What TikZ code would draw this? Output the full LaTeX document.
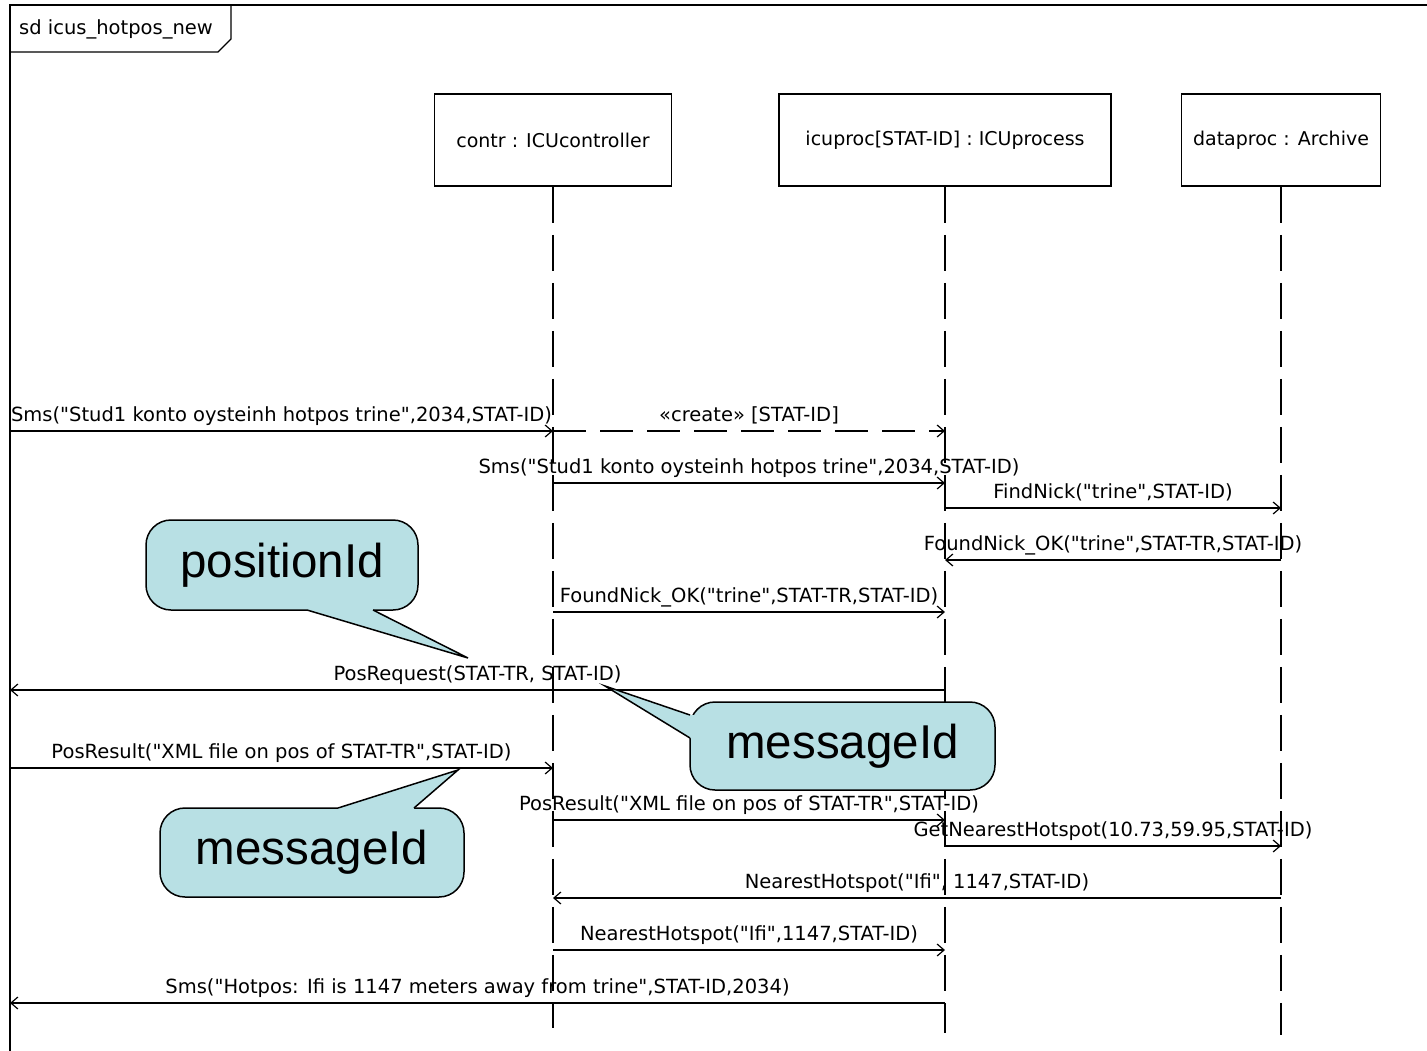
\documentclass[tikz,border=0pt]{standalone}
\usepackage{fontspec}
\setmainfont{DejaVu Sans}
\newfontfamily\msgfont{DejaVu Sans}
\newfontfamily\callfont{Liberation Sans}
\usetikzlibrary{arrows.meta}
\definecolor{callfill}{RGB}{184,224,228}
\tikzset{
 lbl/.style={font=\msgfont\fontsize{19.5}{23}\selectfont, inner sep=0pt, anchor=base},
 head/.style={draw, line width=1.5pt, minimum height=92pt, font=\msgfont\fontsize{19}{23}\selectfont, inner sep=0pt},
 life/.style={line width=1.5pt, dash pattern=on 36pt off 12pt},
 msg/.style={line width=1.3pt, -{Straight Barb[length=7pt,width=12pt,line width=1.2pt]}},
 crt/.style={msg, dash pattern=on 33pt off 14pt},
 callout/.style={draw, fill=callfill, line width=1.5pt, rounded corners=25pt, font=\callfont\fontsize{47.5}{56}\selectfont, inner sep=0pt},
 ptr/.style={line width=1.5pt, line join=miter},
}
\begin{document}
\begin{tikzpicture}[x=1pt,y=-1pt]
\useasboundingbox (0,0) rectangle (1427,1050);
\fill[white] (0,0) rectangle (1427,1050);
% frame
\draw[line width=1.5pt] (10,1060) -- (10,5) -- (1440,5);
\draw[line width=1.2pt] (10,52) -- (218,52) -- (231,39) -- (231,5);
\node[lbl, anchor=center] (sdname) at (116,29) {sd icus\_hotpos\_new};
% lifeline heads
\node[head, minimum width=237pt] (contr) at (553,140) {contr : ICUcontroller};
\node[head, minimum width=332pt] (icu) at (945,140) {icuproc[STAT-ID] : ICUprocess};
\node[head, minimum width=199pt] (data) at (1281,140) {dataproc : Archive};
\coordinate (contrEnd) at (553,1028);
\coordinate (icuEnd) at (945,1033);
\coordinate (dataEnd) at (1281,1035);
\draw[life] (contr.south) -- (contrEnd);
\draw[life] (icu.south) -- (icuEnd);
\draw[life] (data.south) -- (dataEnd);
% message levels
\coordinate (env) at (10,0);
\coordinate (m1) at (0,431);
\coordinate (m3) at (0,483);
\coordinate (m4) at (0,508);
\coordinate (m5) at (0,560);
\coordinate (m6) at (0,612);
\coordinate (m7) at (0,690);
\coordinate (m8) at (0,768);
\coordinate (m9) at (0,820);
\coordinate (m10) at (0,846);
\coordinate (m11) at (0,898);
\coordinate (m12) at (0,950);
\coordinate (m13) at (0,1003);
% messages
\draw[msg] (env |- m1) -- node[lbl, midway, yshift=10pt] {Sms("Stud1 konto oysteinh hotpos trine",2034,STAT-ID)} (contr |- m1);
\draw[crt] (contr |- m1) -- node[lbl, midway, yshift=10pt] {«create» [STAT-ID]} (icu |- m1);
\draw[msg] (contr |- m3) -- node[lbl, midway, yshift=10pt] {Sms("Stud1 konto oysteinh hotpos trine",2034,STAT-ID)} (icu |- m3);
\draw[msg] (icu |- m4) -- node[lbl, midway, yshift=10pt] {FindNick("trine",STAT-ID)} (data |- m4);
\draw[msg] (data |- m5) -- node[lbl, midway, yshift=10pt] {FoundNick\_OK("trine",STAT-TR,STAT-ID)} (icu |- m5);
\draw[msg] (contr |- m6) -- node[lbl, midway, yshift=10pt] {FoundNick\_OK("trine",STAT-TR,STAT-ID)} (icu |- m6);
\draw[msg] (icu |- m7) -- node[lbl, midway, yshift=10pt] {PosRequest(STAT-TR, STAT-ID)} (env |- m7);
\draw[msg] (env |- m8) -- node[lbl, midway, yshift=10pt] {PosResult("XML file on pos of STAT-TR",STAT-ID)} (contr |- m8);
\draw[msg] (contr |- m9) -- node[lbl, midway, yshift=10pt] {PosResult("XML file on pos of STAT-TR",STAT-ID)} (icu |- m9);
\draw[msg] (icu |- m10) -- node[lbl, midway, yshift=10pt] {GetNearestHotspot(10.73,59.95,STAT-ID)} (data |- m10);
\draw[msg] (data |- m11) -- node[lbl, midway, yshift=10pt] {NearestHotspot("Ifi", 1147,STAT-ID)} (contr |- m11);
\draw[msg] (contr |- m12) -- node[lbl, midway, yshift=10pt] {NearestHotspot("Ifi",1147,STAT-ID)} (icu |- m12);
\draw[msg] (icu |- m13) -- node[lbl, midway, yshift=10pt] {Sms("Hotpos: Ifi is 1147 meters away from trine",STAT-ID,2034)} (env |- m13);
% callouts
\node[callout, minimum width=272pt, minimum height=90pt] (pid) at (282,565) {positionId};
\coordinate (pidTip) at (468,658);
\fill[callfill] (307,610) -- (pidTip) -- (373,610) -- (373,605) -- (307,605) -- cycle;
\draw[ptr] (307,610) -- (pidTip) -- (373,610);
\node[callout, minimum width=305pt, minimum height=88pt] (mid1) at (842.5,746) {messageId};
\coordinate (mid1Tip) at (605,686);
\fill[callfill] (690,715) -- (mid1Tip) -- (690,738) -- (695,738) -- (695,715) -- cycle;
\draw[ptr] (690,715) -- (mid1Tip) -- (690,738);
\node[callout, minimum width=304pt, minimum height=89pt] (mid2) at (312,852.5) {messageId};
\coordinate (mid2Tip) at (458,770);
\fill[callfill] (338,808) -- (mid2Tip) -- (414,808) -- (414,813) -- (338,813) -- cycle;
\draw[ptr] (338,808) -- (mid2Tip) -- (414,808);
\end{tikzpicture}
\end{document}
